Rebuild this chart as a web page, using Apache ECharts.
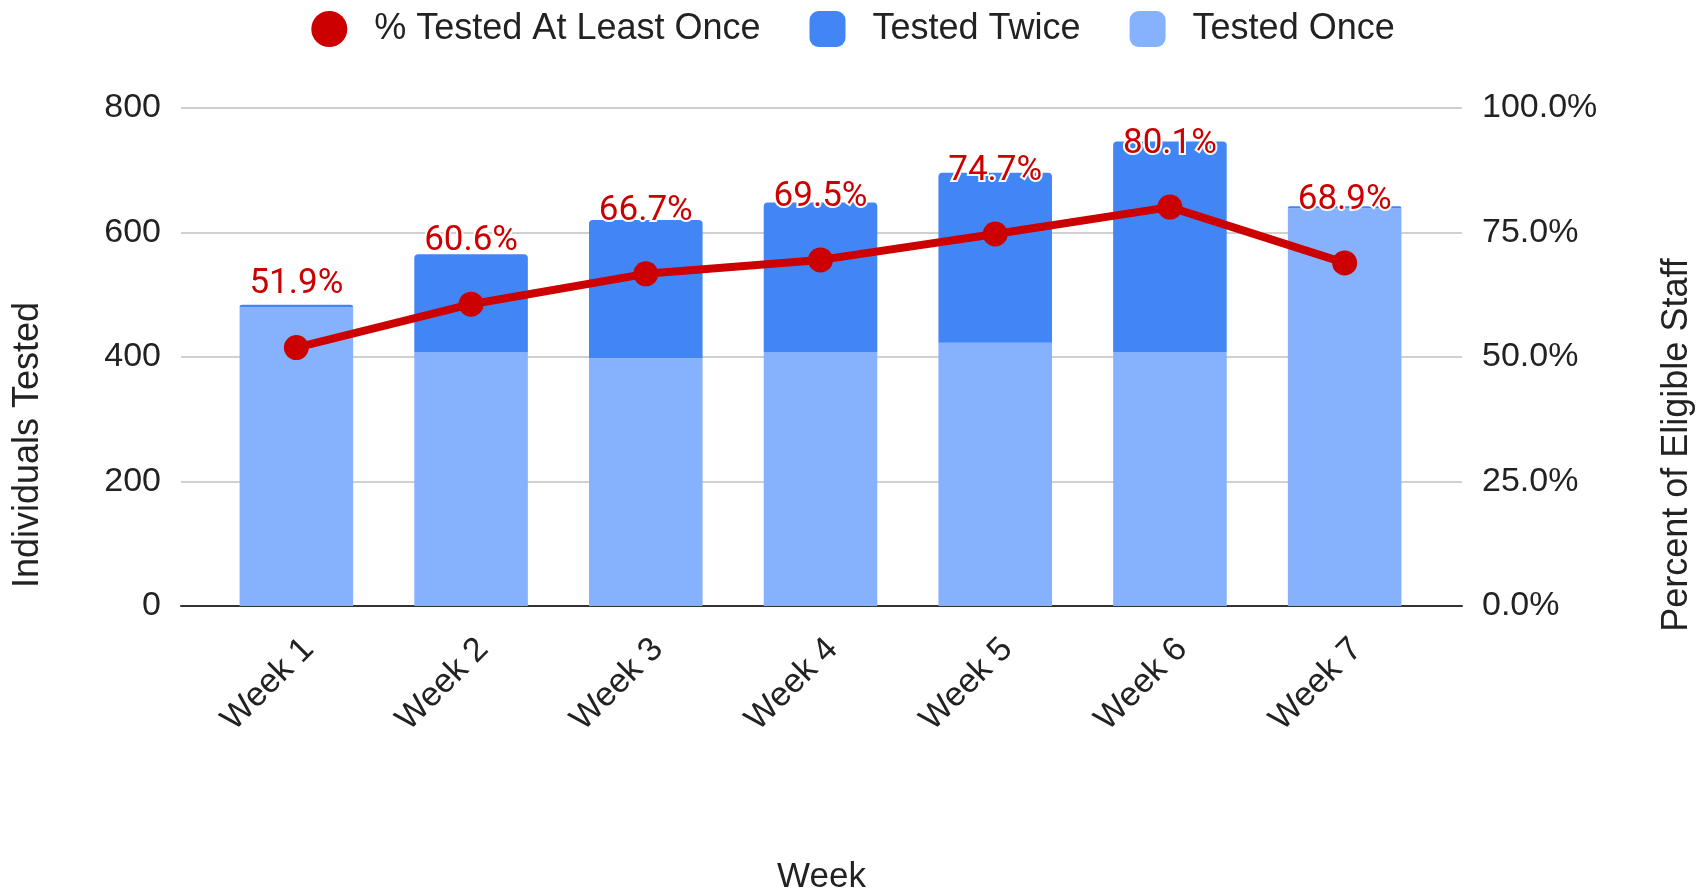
<!DOCTYPE html>
<html>
<head>
<meta charset="utf-8">
<script src="https://cdn.jsdelivr.net/npm/echarts@6/dist/echarts.min.js"></script>
<style>html,body{margin:0;padding:0;background:#fff}#c{width:1706px;height:896px}</style>
</head>
<body>
<div id="c"></div>
<script>
const weeks = ['Week 1','Week 2','Week 3','Week 4','Week 5','Week 6','Week 7'];
const testedOnce = [480, 408, 398, 408, 423, 408, 639];
const testedTwice = [4, 157, 222, 240, 273, 338, 3];
const pctTested = [51.9, 60.6, 66.7, 69.5, 74.7, 80.1, 68.9];
const countTicks = [0, 200, 400, 600, 800];
const pctTicks = [0, 25, 50, 75, 100];

const FONT = '"Liberation Sans", Arial, sans-serif';
const chart = echarts.init(document.getElementById('c'));
chart.setOption({
  animation: false,
  legend: {
    top: 6, left: 'center',
    itemWidth: 36, itemHeight: 36, itemGap: 49,
    textStyle: { fontFamily: FONT, fontSize: 36, color: '#222', padding: [0,0,0,22] },
    data: [
      { name: '% Tested At Least Once', icon: 'circle' },
      { name: 'Tested Twice', icon: 'roundRect' },
      { name: 'Tested Once', icon: 'roundRect' }
    ]
  },
  grid: [
    { left: 181, right: 244, top: 108, bottom: 290, outerBoundsMode: 'none' },
    { left: 209, right: 274, top: 108, bottom: 290, outerBoundsMode: 'none' }
  ],
  xAxis: [
    { gridIndex: 0, type: 'value', min: 0, max: 1,
      axisLine: { show: true, lineStyle: { color: '#333', width: 2 } },
      axisTick: { show: false }, axisLabel: { show: false }, splitLine: { show: false },
      name: 'Week', nameLocation: 'middle', nameGap: 254,
      nameTextStyle: { fontFamily: FONT, fontSize: 35, color: '#222' } },
    { gridIndex: 1, type: 'category', data: weeks,
      axisLine: { show: false }, axisTick: { show: false },
      axisLabel: { rotate: 45, margin: 26, verticalAlign: 'top', lineHeight: 34, fontFamily: FONT, fontSize: 34, color: '#222' } }
  ],
  yAxis: [
    { gridIndex: 0, type: 'value', position: 'left', min: countTicks[0], max: countTicks[countTicks.length-1], interval: 200,
      axisLine: { show: false }, axisTick: { show: false },
      axisLabel: { margin: 20, fontFamily: FONT, fontSize: 34, color: '#222' },
      splitLine: { show: true, lineStyle: { color: '#d0d0d0', width: 2 } },
      name: 'Individuals Tested', nameLocation: 'middle', nameGap: 135, nameRotate: 90,
      nameTextStyle: { fontFamily: FONT, fontSize: 36, color: '#222', padding: [0, 176, 0, 0] } },
    { gridIndex: 0, type: 'value', position: 'right', min: pctTicks[0], max: pctTicks[pctTicks.length-1], interval: 25,
      axisLine: { show: false }, axisTick: { show: false },
      axisLabel: { margin: 20, fontFamily: FONT, fontSize: 34, color: '#222', formatter: v => v.toFixed(1) + '%' },
      splitLine: { show: false },
      name: 'Percent of Eligible Staff', nameLocation: 'middle', nameGap: 197, nameRotate: 90,
      nameTextStyle: { fontFamily: FONT, fontSize: 36, color: '#222', padding: [0, 176, 0, 0] } },
    { gridIndex: 1, type: 'value', min: 0, max: 800, show: false },
    { gridIndex: 1, type: 'value', min: 0, max: 100, show: false }
  ],
  series: [
    { name: 'Tested Once', type: 'bar', stack: 'n', xAxisIndex: 1, yAxisIndex: 2,
      data: testedOnce, barCategoryGap: '35%', itemStyle: { color: '#86b2fd' } },
    { name: 'Tested Twice', type: 'bar', stack: 'n', xAxisIndex: 1, yAxisIndex: 2,
      data: testedTwice, barCategoryGap: '35%', itemStyle: { color: '#4285f4', borderRadius: [4,4,0,0] } },
    { name: '% Tested At Least Once', type: 'line', xAxisIndex: 1, yAxisIndex: 3,
      data: pctTested, symbol: 'circle', symbolSize: 25, z: 5,
      lineStyle: { color: '#cc0000', width: 8 }, itemStyle: { color: '#cc0000' },
      label: { show: true, position: 'top', distance: 33, fontFamily: 'Roboto', fontSize: 35, color: '#cc0000',
        textBorderColor: '#fff', textBorderWidth: 4, formatter: p => p.value.toFixed(1) + '%' } }
  ]
});
</script>
</body>
</html>
